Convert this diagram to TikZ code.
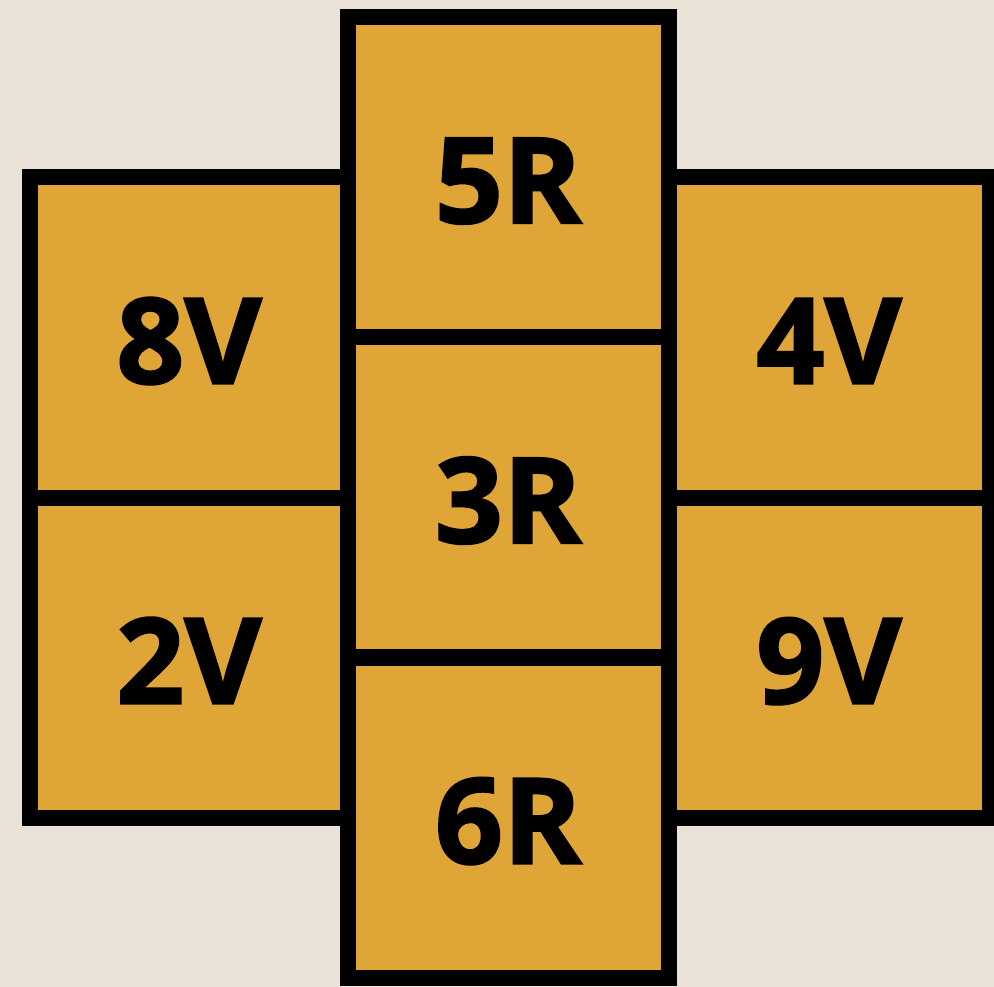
\documentclass[tikz,border=0pt]{standalone}
\usepackage{fontspec}
\setmainfont{Open Sans}[BoldFont={* Bold}, BoldFeatures={FakeBold=1.8}]
\definecolor{paper}{RGB}{234,226,214}
\definecolor{mustard}{RGB}{223,165,55}
\begin{document}
\begin{tikzpicture}[x=1pt,y=-1pt,
  tile/.style={draw=black, fill=mustard, line width=16pt, rectangle,
    inner sep=0pt, outer sep=0pt, minimum height=320pt,
    text height=92pt, text depth=0pt,
    font=\fontsize{119}{119}\selectfont\bfseries},
  sidetile/.style={tile, minimum width=319pt},
  midtile/.style={tile, minimum width=320.5pt}]
  % canvas
  \fill[paper] (0,0) rectangle (994,987);
  \useasboundingbox (0,0) rectangle (994,987);
  % side columns
  \node[sidetile] (v8) at (189,337.5) {8V};
  \node[sidetile] (v2) at (189,657.5) {2V};
  \node[sidetile, minimum width=321pt] (v4) at (829,337.5) {4V};
  \node[sidetile, minimum width=321pt] (v9) at (829,657.5) {9V};
  % middle column
  \node[midtile] (r5) at (508.25,177) {5R};
  \node[midtile] (r3) at (508.25,497) {3R};
  \node[midtile] (r6) at (508.25,817.5) {6R};
\end{tikzpicture}
\end{document}
